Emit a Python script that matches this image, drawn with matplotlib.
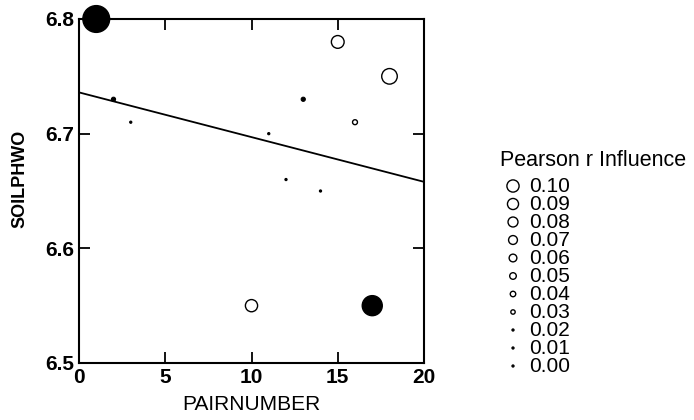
import numpy as np
import matplotlib
matplotlib.use("Agg")
import matplotlib.pyplot as plt

plt.rcParams['font.family'] = ['Liberation Sans', 'DejaVu Sans']

# data
pair_number = [1, 2, 3, 10, 11, 12, 13, 14, 15, 16, 17, 18]
soil_ph = [6.80, 6.73, 6.71, 6.55, 6.70, 6.66, 6.73, 6.65, 6.78, 6.71, 6.55, 6.75]
# negative influence drawn as filled circles
influence = [-0.23, 0.028, 0.01, 0.10, 0.01, 0.01, 0.028, 0.01, 0.105, 0.035, -0.17, 0.13]

fit_intercept = 6.736
fit_slope = -0.0039

legend_values = [0.10, 0.09, 0.08, 0.07, 0.06, 0.05, 0.04, 0.03, 0.02, 0.01, 0.00]


def marker_area(v):
    # diameter in points grows linearly with influence, tiny ones are dots
    v = abs(v)
    d_px = 1.0 + 112 * v if v > 0.02 else 2.2
    d_pt = d_px * 0.72
    return d_pt ** 2


def is_filled(v):
    return v < 0 or v < 0.03


def edge_width(v):
    return 1.0 if abs(v) >= 0.03 else 0.8


fig = plt.figure(figsize=(6.94, 4.2), dpi=100)
ax = fig.add_axes([79 / 694, 1 - 363 / 420, (424 - 79) / 694, (363 - 19) / 420])

x = np.array(pair_number)
y = np.array(soil_ph)
inf = np.array(influence)
ax.scatter(x, y, s=[marker_area(v) for v in inf],
           facecolors=['black' if is_filled(v) else 'white' for v in inf],
           edgecolors='black', linewidths=[edge_width(v) for v in inf],
           clip_on=False, zorder=3)

xl = np.array([0, 20])
ax.plot(xl, fit_intercept + fit_slope * xl, color='black', lw=1.3, zorder=2)

ax.set_xlim(0, 20)
ax.set_ylim(6.5, 6.8)
ax.set_xticks([0, 5, 10, 15, 20])
ax.set_yticks([6.5, 6.6, 6.7, 6.8])
ax.set_yticklabels(['6.5', '6.6', '6.7', '6.8'])
ax.tick_params(direction='in', length=8, width=1.3, labelsize=15,
               top=True, right=True, pad=3.5)
for lab in ax.get_xticklabels() + ax.get_yticklabels():
    lab.set_fontweight('bold')
for sp in ax.spines.values():
    sp.set_linewidth(1.5)

ax.set_xlabel('PAIRNUMBER', fontsize=15, labelpad=6)
ax.set_ylabel('SOILPHWO', fontsize=13, fontweight='bold',
              family=['Liberation Sans Narrow', 'Liberation Sans', 'DejaVu Sans'])
ax.yaxis.set_label_coords(-0.147, (363 - 179) / 344)

# size legend
fig.text(500 / 694, 1 - 160 / 420, 'Pearson r Influence', fontsize=15.5,
         va='center', ha='left')
lax = fig.add_axes([0, 0, 1, 1], facecolor='none')
lax.set_xlim(0, 694)
lax.set_ylim(420, 0)
lax.axis('off')
ly = 186 + 18 * np.arange(len(legend_values))
lax.scatter([513] * len(legend_values), ly,
            s=[marker_area(v) for v in legend_values],
            facecolors=['black' if is_filled(v) else 'white' for v in legend_values],
            edgecolors='black',
            linewidths=[edge_width(v) for v in legend_values])
for yy, v in zip(ly, legend_values):
    lax.text(529, yy, '%.2f' % v, fontsize=15, va='center', ha='left')

fig.savefig('out.png', dpi=100)
